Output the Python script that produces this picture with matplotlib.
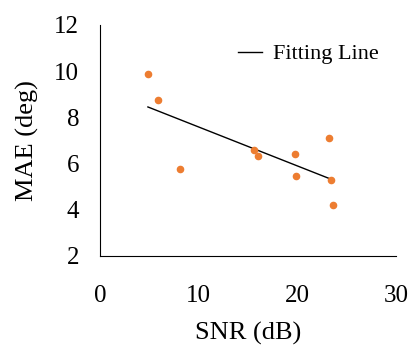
import matplotlib.pyplot as plt

# values
snr = [4.9, 5.9, 8.1, 15.6, 16.0, 19.8, 19.9, 23.2, 23.45, 23.6]
mae = [9.88, 8.75, 5.78, 6.58, 6.31, 6.43, 5.45, 7.12, 5.30, 4.22]

# end points of the fitting line
fit_x = [4.86, 23.6]
fit_y = [8.45, 5.29]

x_ticks = [0, 10, 20, 30]
y_ticks = [2, 4, 6, 8, 10, 12]

plt.rcParams['font.family'] = ['Liberation Serif', 'DejaVu Serif']

fig = plt.figure(figsize=(4.13, 3.52), dpi=100)
ax = fig.add_axes([0.242, 0.273, 0.717, 0.656])

ax.scatter(snr, mae, s=20, color='#ED7D31', zorder=3)
ax.plot(fit_x, fit_y, color='black', linewidth=1.0, label='Fitting Line')

ax.set_xlim(0, 30)
ax.set_ylim(2, 12)
ax.set_xticks(x_ticks)
ax.set_yticks(y_ticks)
ax.tick_params(length=0, labelsize=18)
ax.tick_params(axis='y', pad=15)
ax.tick_params(axis='x', pad=21)

ax.spines['top'].set_visible(False)
ax.spines['right'].set_visible(False)

ax.set_xlabel('SNR (dB)', fontsize=19, labelpad=11)
ax.set_ylabel('MAE (deg)', fontsize=19, labelpad=11)

ax.legend(loc='upper right', bbox_to_anchor=(1.01, 1.005), frameon=False,
          fontsize=16, handlelength=1.1, handletextpad=0.5)

plt.savefig('out.png', dpi=100)
plt.close()
